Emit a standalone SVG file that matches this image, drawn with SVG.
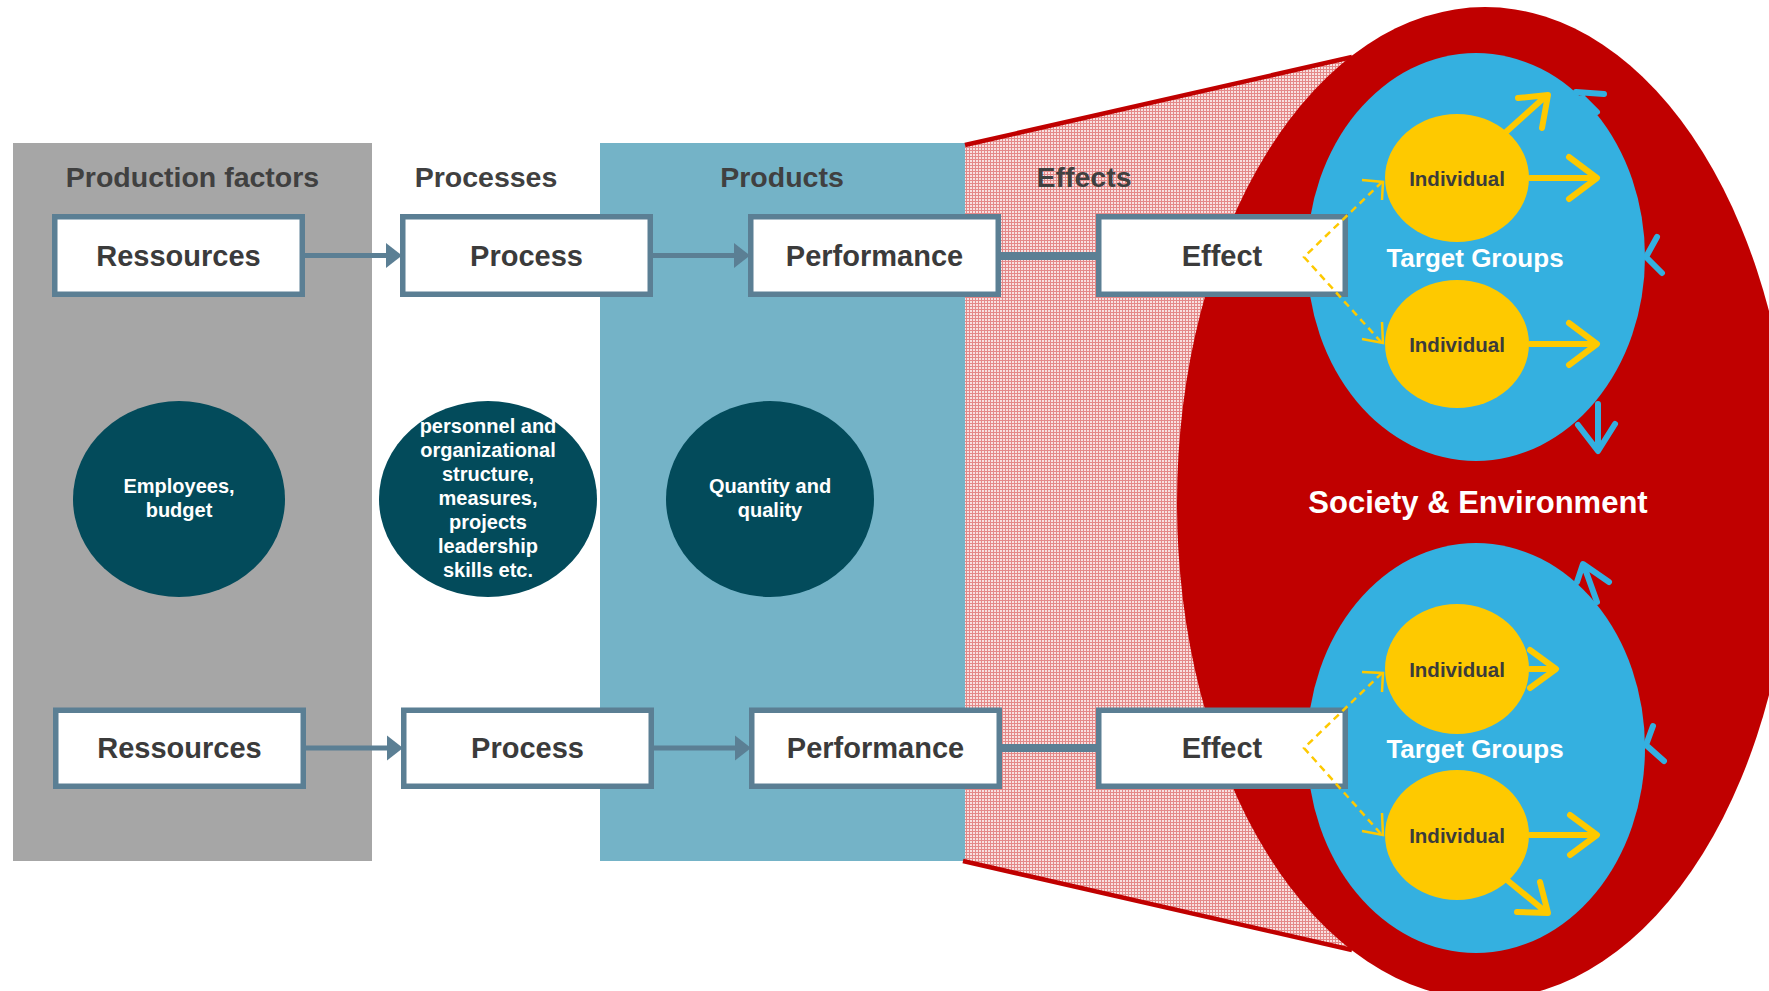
<svg xmlns="http://www.w3.org/2000/svg" width="1769" height="991" viewBox="0 0 1769 991">
<defs>
<pattern id="hatch" width="3" height="3" patternUnits="userSpaceOnUse">
<rect width="3" height="3" fill="#f8e0e0"/>
<rect width="1" height="3" fill="#e48888"/>
<rect width="3" height="1" fill="#e48888"/>
</pattern>
<style>
.hdr{font-family:"Liberation Sans",Arial,sans-serif;font-weight:bold;font-size:28.5px;fill:#404040;text-anchor:middle}
.box rect{fill:#ffffff;stroke:#5b7f94;stroke-width:5.5}
.box text{font-family:"Liberation Sans",Arial,sans-serif;font-weight:bold;font-size:29px;fill:#3b3b3b;text-anchor:middle}
.dark ellipse{fill:#034b5b}
.dark text{font-family:"Liberation Sans",Arial,sans-serif;font-weight:bold;font-size:20px;fill:#ffffff;text-anchor:middle}
.conn{stroke:#5b7f94;fill:none}
.tri{fill:#5b7f94}
.ind ellipse{fill:#fec900}
.ind text{font-family:"Liberation Sans",Arial,sans-serif;font-weight:bold;font-size:20.5px;fill:#3b3b3b;text-anchor:middle}
.tg{font-family:"Liberation Sans",Arial,sans-serif;font-weight:bold;font-size:26px;fill:#ffffff;text-anchor:middle}
.ya{stroke:#fec900;stroke-width:6;fill:none;stroke-linecap:round;stroke-linejoin:round}
.ba{stroke:#34b0e0;stroke-width:6;fill:none;stroke-linecap:round;stroke-linejoin:round}
.dash{stroke:#fec900;stroke-width:2.5;fill:none;stroke-dasharray:7 5}
.dhead{stroke:#fec900;stroke-width:2.5;fill:none}
</style>
</defs>
<rect width="1769" height="991" fill="#ffffff"/>

<g id="panels">
<rect x="13" y="143" width="359" height="718" fill="#a6a6a6"/>
<rect x="372" y="143" width="228" height="718" fill="#ffffff"/>
<rect x="600" y="143" width="365" height="718" fill="#74b3c7"/>
<polygon points="965,145 1352,57 1352,950 965,861" fill="url(#hatch)"/>
</g>

<g id="society">
<ellipse cx="1485" cy="503" rx="308" ry="496" fill="#c00000"/>
<line x1="965" y1="145" x2="1352" y2="57" stroke="#c00000" stroke-width="4.5"/>
<line x1="963" y1="861" x2="1352" y2="950" stroke="#c00000" stroke-width="4.5"/>
<text x="1478" y="513" font-family="Liberation Sans, Arial, sans-serif" font-weight="bold" font-size="31" fill="#ffffff" text-anchor="middle">Society &amp; Environment</text>
</g>

<g id="headers">
<text class="hdr" x="192.5" y="187">Production factors</text>
<text class="hdr" x="486" y="187">Processes</text>
<text class="hdr" x="782" y="187">Products</text>
<text class="hdr" x="1084" y="187">Effects</text>
</g>

<g id="targetgroup1">
<ellipse cx="1476" cy="257" rx="169" ry="204" fill="#34b0e0"/>
<text class="tg" x="1475" y="267">Target Groups</text>
<g class="ind" id="ind1a"><ellipse cx="1457" cy="178" rx="72" ry="64"/><text x="1457" y="186">Individual</text></g>
<g class="ind" id="ind1b"><ellipse cx="1457" cy="344" rx="72" ry="64"/><text x="1457" y="352">Individual</text></g>
<path class="ya" d="M1530,178 H1596 M1569,157 L1597,178 L1569,199"/>
<path class="ya" d="M1506,132 L1546,96 M1518,98 L1548,95 L1542,128"/>
<path class="ya" d="M1530,344 H1596 M1569,323 L1597,344 L1569,365"/>
<path class="ba" d="M1576,92 L1604,94 M1582,97 L1597,112"/>
<path class="ba" d="M1657,237 L1646,257 L1662,273"/>
<path class="ba" d="M1598,404 V450 M1578,425 L1598,451 L1615,424"/>
</g>

<g id="targetgroup2">
<ellipse cx="1476" cy="748" rx="169" ry="205" fill="#34b0e0"/>
<text class="tg" x="1475" y="758">Target Groups</text>
<g class="ind" id="ind2a"><ellipse cx="1457" cy="669" rx="72" ry="65"/><text x="1457" y="677">Individual</text></g>
<g class="ind" id="ind2b"><ellipse cx="1457" cy="835" rx="72" ry="65"/><text x="1457" y="843">Individual</text></g>
<path class="ya" d="M1530,669 H1554 M1530,650 L1556,669 L1530,688"/>
<path class="ya" d="M1530,835 H1596 M1570,815 L1597,835 L1570,855"/>
<path class="ya" d="M1507,880 L1546,912 M1517,912 L1548,913 L1540,882"/>
<path class="ba" d="M1597,602 L1584,566 M1577,582 L1583,564 L1609,582"/>
<path class="ba" d="M1653,726 L1646,745 L1664,761"/>
</g>

<g id="descriptions" class="dark">
<g id="employees"><ellipse cx="179" cy="499" rx="106" ry="98"/>
<text x="179" y="493">Employees,</text><text x="179" y="517">budget</text></g>
<g id="processdesc"><ellipse cx="488" cy="499" rx="109" ry="98"/>
<text x="488" y="433">personnel and</text><text x="488" y="457">organizational</text><text x="488" y="481">structure,</text><text x="488" y="505">measures,</text><text x="488" y="529">projects</text><text x="488" y="553">leadership</text><text x="488" y="577">skills etc.</text></g>
<g id="quantity"><ellipse cx="770" cy="499" rx="104" ry="98"/>
<text x="770" y="493">Quantity and</text><text x="770" y="517">quality</text></g>
</g>

<g id="row1" class="box">
<g id="ressources1"><rect x="54.75" y="216.75" width="247.5" height="77.5"/><text x="178.5" y="266">Ressources</text></g>
<g id="process1"><rect x="402.75" y="216.75" width="247.5" height="77.5"/><text x="526.5" y="266">Process</text></g>
<g id="performance1"><rect x="750.75" y="216.75" width="247.5" height="77.5"/><text x="874.5" y="266">Performance</text></g>
<g id="effect1"><rect x="1098.75" y="216.75" width="246.5" height="77.5"/><text x="1222" y="266">Effect</text></g>
</g>

<g id="row2" class="box">
<g id="ressources2"><rect x="55.75" y="710.25" width="247.5" height="76"/><text x="179.5" y="758">Ressources</text></g>
<g id="process2"><rect x="403.75" y="710.25" width="247.5" height="76"/><text x="527.5" y="758">Process</text></g>
<g id="performance2"><rect x="751.75" y="710.25" width="247.5" height="76"/><text x="875.5" y="758">Performance</text></g>
<g id="effect2"><rect x="1098.75" y="710.25" width="246.5" height="76"/><text x="1222" y="758">Effect</text></g>
</g>

<g id="connectors">
<line class="conn" x1="305" y1="255.5" x2="390" y2="255.5" stroke-width="5"/>
<polygon class="tri" points="386,243 402,255.5 386,268"/>
<line class="conn" x1="653" y1="255.5" x2="738" y2="255.5" stroke-width="5"/>
<polygon class="tri" points="734,243 750,255.5 734,268"/>
<line class="conn" x1="1000" y1="256" x2="1097" y2="256" stroke-width="8"/>
<line class="conn" x1="306" y1="748" x2="391" y2="748" stroke-width="5"/>
<polygon class="tri" points="387,735.5 403,748 387,760.5"/>
<line class="conn" x1="654" y1="748" x2="739" y2="748" stroke-width="5"/>
<polygon class="tri" points="735,735.5 751,748 735,760.5"/>
<line class="conn" x1="1001" y1="748" x2="1097" y2="748" stroke-width="8"/>
<path class="dash" d="M1382,182 L1304,257 L1382,343"/>
<path class="dhead" d="M1362,180 L1383,182 L1382,200"/>
<path class="dhead" d="M1362,339 L1383,343 L1382,322"/>
<path class="dash" d="M1382,673 L1304,748 L1382,835"/>
<path class="dhead" d="M1362,672 L1383,673 L1382,692"/>
<path class="dhead" d="M1362,831 L1383,835 L1382,813"/>
</g>
</svg>
